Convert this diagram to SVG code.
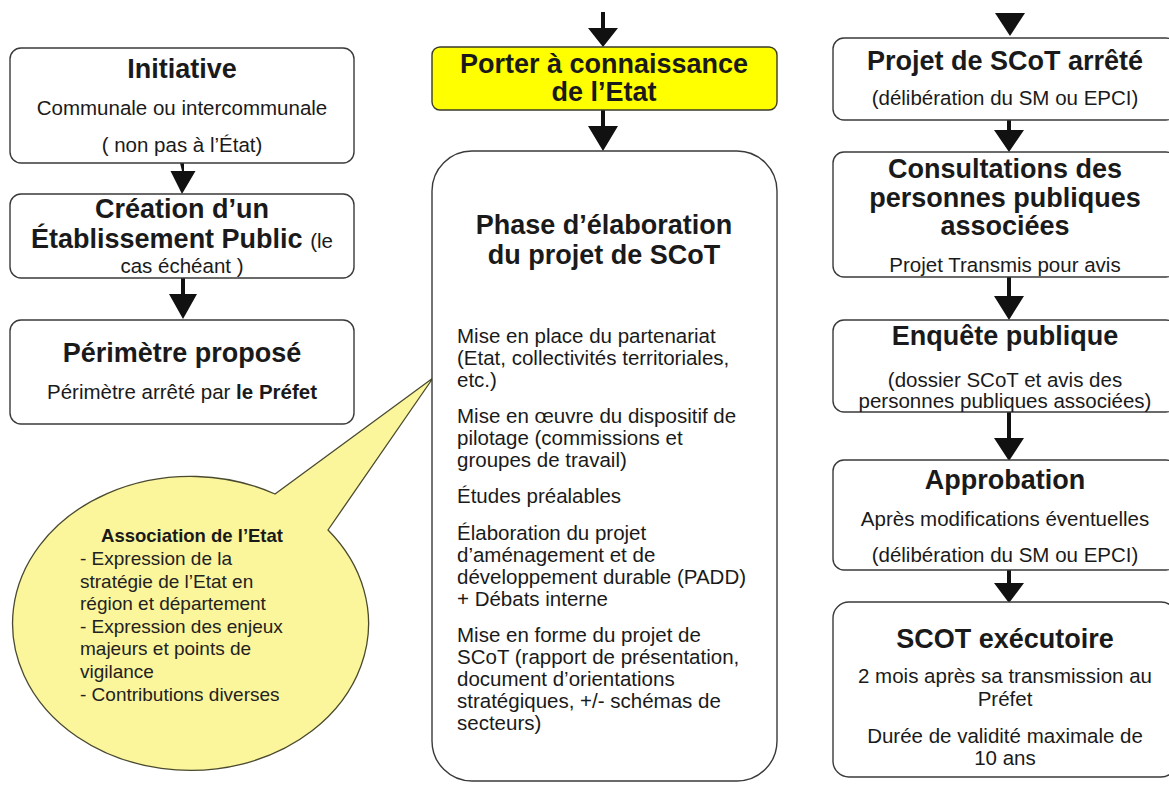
<svg xmlns="http://www.w3.org/2000/svg" width="1169" height="785" viewBox="0 0 1169 785">
<defs>
<style>
.box{fill:#fff;stroke:#3a3a3a;stroke-width:1.4}
.yel{fill:#ffff00;stroke:#3a3a2a;stroke-width:1.4}
.bub{fill:#fbf59b;stroke:#4a4a30;stroke-width:1.3}
text{font-family:"Liberation Sans",Arial,sans-serif;fill:#1a1a1a}
.t{font-size:27px;font-weight:bold;text-anchor:middle}
.s{font-size:20.5px;text-anchor:middle}
.b{font-size:20.5px;text-anchor:start}
.bt{font-size:18.5px;font-weight:bold;text-anchor:middle}
.bb{font-size:19px;text-anchor:start;fill:#222}
.arr{fill:#111}
</style>
</defs>
<rect width="1169" height="785" fill="#fff"/>

<g id="connectors" class="arr">
<!-- left column -->
<path d="M180 163 h4 v8 h11.5 L182 194 L170.5 171 h11.5 z" transform="translate(-0,0)"/>
<path d="M181 278 h4 v16 h12 L183 319 L169 294 h12 z"/>
<!-- middle column -->
<path d="M601 12 h4 v16 h13 L603 47 L588 28 h13 z"/>
<path d="M601 110 h4 v16 h13 L603 151 L588 126 h13 z"/>
<!-- right column -->
<path d="M995 13 h30 L1010 36 z"/>
<path d="M1007 120 h4 v10 h13 L1009 152 L994 130 h13 z"/>
<path d="M1007 277 h4 v19 h13 L1009 320 L994 296 h13 z"/>
<path d="M1007 412 h4 v26 h13 L1009 461 L994 438 h13 z"/>
<path d="M1007 570 h4 v13 h13 L1009 603 L994 583 h13 z"/>
</g>

<g id="initiative">
<rect class="box" x="10" y="48" width="344" height="115" rx="11"/>
<text class="t" x="182" y="78">Initiative</text>
<text class="s" x="182" y="115">Communale ou intercommunale</text>
<text class="s" x="182" y="152">( non pas à l’État)</text>
</g>

<g id="creation">
<rect class="box" x="10" y="194" width="344" height="84" rx="11"/>
<text class="t" x="182" y="218">Création d’un</text>
<text class="t" x="182" y="248">Établissement Public <tspan style="font-weight:normal;font-size:20.5px"> (le</tspan></text>
<text class="s" x="182" y="273">cas échéant )</text>
</g>

<g id="perimetre">
<rect class="box" x="10" y="320" width="344" height="104" rx="11"/>
<text class="t" x="182" y="362">Périmètre proposé</text>
<text class="s" x="182" y="399">Périmètre arrêté par <tspan font-weight="bold">le Préfet</tspan></text>
</g>

<g id="association">
<path class="bub" d="M328 530 L433 378 L275 494 A178 147 0 1 0 328 530 Z"/>
<text class="bt" x="192" y="542">Association de l’Etat</text>
<text class="bb" x="80" y="565">- Expression de la</text>
<text class="bb" x="80" y="588">stratégie de l’Etat en</text>
<text class="bb" x="80" y="610">région et département</text>
<text class="bb" x="80" y="633">- Expression des enjeux</text>
<text class="bb" x="80" y="655">majeurs et points de</text>
<text class="bb" x="80" y="678">vigilance</text>
<text class="bb" x="80" y="701">- Contributions diverses</text>
</g>

<g id="porter">
<rect class="yel" x="432" y="47" width="345" height="63" rx="8"/>
<text class="t" x="604" y="73">Porter à connaissance</text>
<text class="t" x="604" y="101">de l’Etat</text>
</g>

<g id="phase">
<rect class="box" x="432" y="151" width="345" height="630" rx="40"/>
<text class="t" x="604" y="234">Phase d’élaboration</text>
<text class="t" x="604" y="264">du projet de SCoT</text>
<text class="b" x="457" y="343">Mise en place du partenariat</text>
<text class="b" x="457" y="365">(Etat, collectivités territoriales,</text>
<text class="b" x="457" y="387">etc.)</text>
<text class="b" x="457" y="423">Mise en œuvre du dispositif de</text>
<text class="b" x="457" y="445">pilotage (commissions et</text>
<text class="b" x="457" y="467">groupes de travail)</text>
<text class="b" x="457" y="503">Études préalables</text>
<text class="b" x="457" y="540">Élaboration du projet</text>
<text class="b" x="457" y="562">d’aménagement et de</text>
<text class="b" x="457" y="584">développement durable (PADD)</text>
<text class="b" x="457" y="606">+ Débats interne</text>
<text class="b" x="457" y="642">Mise en forme du projet de</text>
<text class="b" x="457" y="664">SCoT (rapport de présentation,</text>
<text class="b" x="457" y="686">document d’orientations</text>
<text class="b" x="457" y="708">stratégiques, +/- schémas de</text>
<text class="b" x="457" y="730">secteurs)</text>
</g>

<g id="projet-arrete">
<rect class="box" x="833" y="38" width="344" height="82" rx="11"/>
<text class="t" x="1005" y="70">Projet de SCoT arrêté</text>
<text class="s" x="1005" y="105">(délibération du SM ou EPCI)</text>
</g>

<g id="consultations">
<rect class="box" x="833" y="152" width="344" height="125" rx="11"/>
<text class="t" x="1005" y="178">Consultations des</text>
<text class="t" x="1005" y="207">personnes publiques</text>
<text class="t" x="1005" y="235">associées</text>
<text class="s" x="1005" y="272">Projet Transmis pour avis</text>
</g>

<g id="enquete">
<rect class="box" x="833" y="320" width="344" height="92" rx="11"/>
<text class="t" x="1005" y="345">Enquête publique</text>
<text class="s" x="1005" y="387">(dossier SCoT et avis des</text>
<text class="s" x="1005" y="408">personnes publiques associées)</text>
</g>

<g id="approbation">
<rect class="box" x="833" y="460" width="344" height="110" rx="11"/>
<text class="t" x="1005" y="489">Approbation</text>
<text class="s" x="1005" y="526">Après modifications éventuelles</text>
<text class="s" x="1005" y="562">(délibération du SM ou EPCI)</text>
</g>

<g id="scot-executoire">
<rect class="box" x="833" y="602" width="344" height="175" rx="16"/>
<text class="t" x="1005" y="648">SCOT exécutoire</text>
<text class="s" x="1005" y="683">2 mois après sa transmission au</text>
<text class="s" x="1005" y="706">Préfet</text>
<text class="s" x="1005" y="743">Durée de validité maximale de</text>
<text class="s" x="1005" y="765">10 ans</text>
</g>
</svg>
